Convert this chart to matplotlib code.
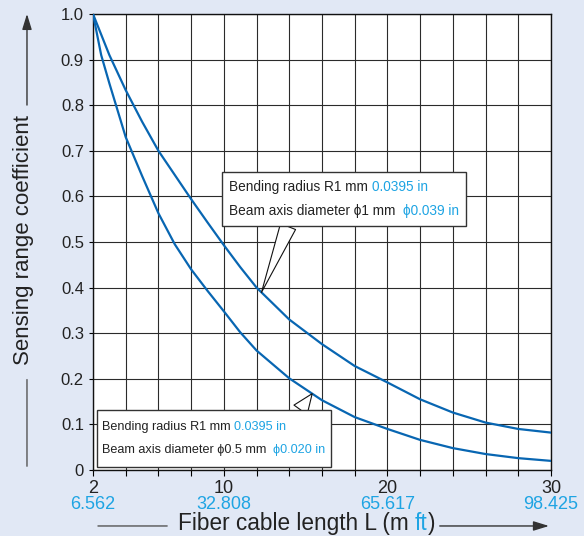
import numpy as np
import matplotlib
matplotlib.use('Agg')
import matplotlib.pyplot as plt
from matplotlib import font_manager
from matplotlib.patches import FancyArrowPatch
from matplotlib.offsetbox import TextArea, HPacker, VPacker, AnnotationBbox, DrawingArea

# fiber cable length L (m) and sensing range coefficient
length_m = [2, 2.5, 3, 4, 5, 6, 7, 8, 9, 10, 11, 12, 14, 16, 18, 20, 22, 24, 26, 28, 30]
coef_1mm = [1.0, 0.955, 0.91, 0.833, 0.764, 0.70, 0.647, 0.594, 0.543, 0.493, 0.445,
            0.40, 0.330, 0.276, 0.228, 0.192, 0.155, 0.126, 0.104, 0.090, 0.082]
coef_05mm = [1.0, 0.91, 0.848, 0.73, 0.645, 0.563, 0.495, 0.44, 0.393, 0.348, 0.302,
             0.262, 0.201, 0.153, 0.116, 0.090, 0.066, 0.048, 0.035, 0.026, 0.020]

xtick_m = [2, 10, 20, 30]
xtick_ft = ['6.562', '32.808', '65.617', '98.425']
ytick_vals = [0, 0.1, 0.2, 0.3, 0.4, 0.5, 0.6, 0.7, 0.8, 0.9, 1.0]
ytick_labels = ['0', '0.1', '0.2', '0.3', '0.4', '0.5', '0.6', '0.7', '0.8', '0.9', '1.0']

note_1mm = [('Bending radius R1 mm ', '0.0395 in'),
            ('Beam axis diameter \u03d51 mm  ', '\u03d50.039 in')]
note_05mm = [('Bending radius R1 mm ', '0.0395 in'),
             ('Beam axis diameter \u03d50.5 mm  ', '\u03d50.020 in')]

BG = '#e1e8f5'
BLUE = '#0866b2'
CYAN = '#1ea4e3'
INK = '#222222'


def have_font(name):
    try:
        font_manager.findfont(name, fallback_to_default=False)
        return True
    except ValueError:
        return False


plt.rcParams['font.family'] = ['Liberation Sans', 'DejaVu Sans']
if have_font('Liberation Sans Narrow'):
    note_family = ['Liberation Sans Narrow', 'DejaVu Sans']
    note_scale = 1.22
else:
    note_family = ['Liberation Sans', 'DejaVu Sans']
    note_scale = 1.0

fig = plt.figure(figsize=(5.84, 5.36), dpi=100, facecolor=BG)
ax = fig.add_axes([93 / 584, 66 / 536, 458 / 584, 456 / 536])
ax.set_facecolor('white')

ax.plot(length_m, coef_1mm, color=BLUE, lw=1.6, zorder=3)
ax.plot(length_m, coef_05mm, color=BLUE, lw=1.6, zorder=3)

ax.set_xlim(2, 30)
ax.set_ylim(0, 1)
xt = np.arange(2, 31, 2)
ax.set_xticks(xt)
ax.set_xticklabels([str(v) if v in xtick_m else '' for v in xt])
ax.set_yticks(ytick_vals)
ax.set_yticklabels(ytick_labels)
ax.grid(True, color='#2b2b2b', lw=0.8)
ax.tick_params(axis='x', length=4, width=0.8, pad=3.5, labelsize=13, labelcolor=INK)
ax.tick_params(axis='y', length=3, width=0.8, pad=3.5, labelsize=12, labelcolor=INK)
for sp in ax.spines.values():
    sp.set_linewidth(1.0)
    sp.set_color('#111111')

for xm, ft in zip(xtick_m, xtick_ft):
    ax.text(xm, -0.0855, ft, transform=ax.get_xaxis_transform(), ha='center',
            va='baseline', color=CYAN, fontsize=13)


def callout(lines, tip, box_xy, relpos, size, sep, vpad, hpad):
    rows = []
    for black, blue in lines:
        parts = [TextArea(black, textprops=dict(color=INK, family=note_family, size=size)),
                 TextArea(blue, textprops=dict(color=CYAN, family=note_family, size=size))]
        rows.append(HPacker(children=parts, pad=0, sep=0, align='baseline'))
    text_block = VPacker(children=rows, align='left', pad=0, sep=sep)
    box = VPacker(children=[DrawingArea(1, vpad), text_block, DrawingArea(1, vpad)],
                  align='left', pad=0, sep=0)
    ab = AnnotationBbox(box, tip, xybox=box_xy, xycoords='data', boxcoords='data',
                        box_alignment=(0, 0), pad=hpad, fontsize=size,
                        bboxprops=dict(fc='white', ec='#333333', lw=1.0),
                        arrowprops=dict(arrowstyle='wedge,tail_width=0.7,shrink_factor=0.5',
                                        fc='white', ec='#111111', lw=0.8, relpos=relpos,
                                        shrinkA=0, shrinkB=0, mutation_scale=12))
    ab.set_zorder(5)
    ax.add_artist(ab)


tip1 = (12.3, np.interp(12.3, length_m, coef_1mm))
tip2 = (15.4, np.interp(15.4, length_m, coef_05mm))
callout(note_1mm, tip1, (10.31, 0.55), (0.27, 0), 9.8 * note_scale, sep=7, vpad=1.0, hpad=0.5)
callout(note_05mm, tip2, (2.55, 0.0175), (0.87, 1), 9.1 * note_scale, sep=8.3, vpad=4.0, hpad=0.4)

# axis titles with arrows
fig.text(0.041, 0.552, 'Sensing range coefficient', rotation=90, ha='center',
         va='center', fontsize=16, color=INK)
fig.add_artist(FancyArrowPatch((0.0462, 0.125), (0.0462, 0.297), transform=fig.transFigure,
                               arrowstyle='-', color='#555555', lw=1.0))
fig.add_artist(FancyArrowPatch((0.0462, 0.804), (0.0462, 0.974), transform=fig.transFigure,
                               arrowstyle='-|>,head_length=0.94,head_width=0.29',
                               mutation_scale=10, color='#333333', lw=1.0,
                               shrinkA=0, shrinkB=0))
fig.add_artist(FancyArrowPatch((0.163, 0.0187), (0.291, 0.0187), transform=fig.transFigure,
                               arrowstyle='-', color='#555555', lw=1.0))
fig.add_artist(FancyArrowPatch((0.753, 0.0187), (0.940, 0.0187), transform=fig.transFigure,
                               arrowstyle='-|>,head_length=0.94,head_width=0.29',
                               mutation_scale=10, color='#333333', lw=1.0,
                               shrinkA=0, shrinkB=0))

xlab = HPacker(children=[TextArea('Fiber cable length L (m ', textprops=dict(color=INK, size=16.3)),
                         TextArea('ft', textprops=dict(color=CYAN, size=16.3)),
                         TextArea(')', textprops=dict(color=INK, size=16.3))],
               pad=0, sep=0, align='baseline')
fig.add_artist(AnnotationBbox(xlab, (0.525, 0.024), xycoords='figure fraction',
                              box_alignment=(0.5, 0.5), frameon=False, pad=0))

fig.savefig('out.png', dpi=100, facecolor=BG)
